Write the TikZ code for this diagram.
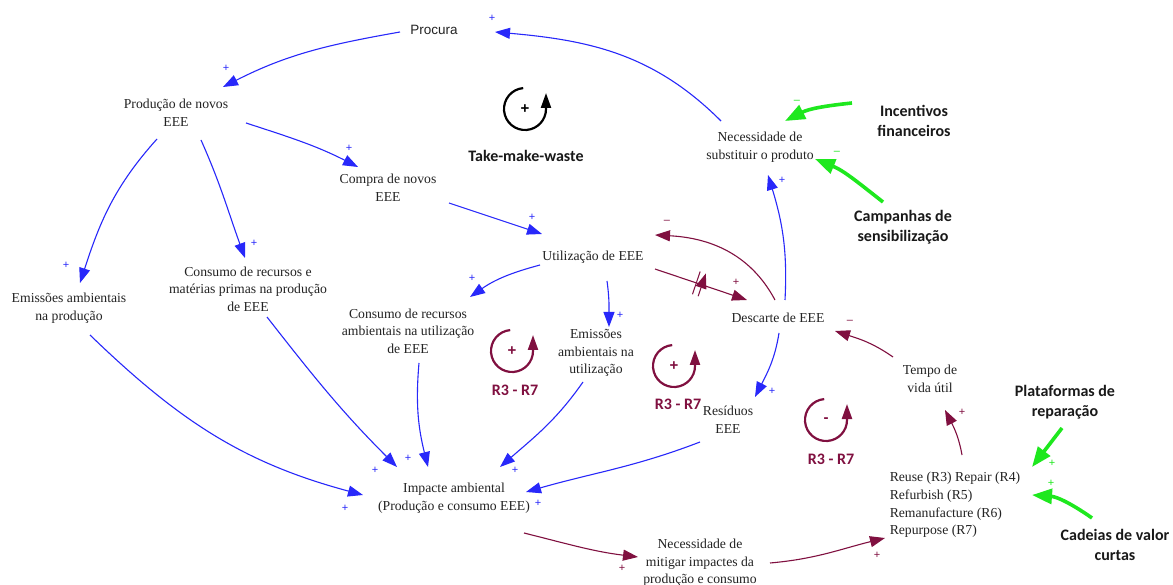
\documentclass[tikz,border=0pt]{standalone}
\usepackage{fontspec}
\setmainfont{Liberation Serif}
\newfontfamily\labelsans{Liberation Sans}
\newfontfamily\calib{Carlito}
\usetikzlibrary{arrows.meta,decorations.markings}

\definecolor{cldblue}{RGB}{40,40,250}
\definecolor{cldmaroon}{RGB}{128,16,64}
\definecolor{cldgreen}{RGB}{30,232,30}
\definecolor{txt}{RGB}{35,35,35}

% feedback loop marker: #1 name, #2 centre, #3 colour, #4 sign
\newcommand\feedbackloop[4]{%
  \node[loopsign, text=#3] (#1) at (#2) {#4};
  \draw[#3, line width=2.2pt, -{Triangle[length=15pt,width=10pt]}]
    ([shift={(95:21)}]#1.center) arc[start angle=95, end angle=360, radius=21pt]
    -- ++(0,16);
}

\begin{document}
\begin{tikzpicture}[x=1pt, y=1pt,
  var/.style={align=center, inner sep=0pt, text=txt, font=\fontsize{13.7}{17.6}\selectfont},
  lever/.style={align=center, inner sep=0pt, text=black!90, font=\calib\bfseries\fontsize{16}{20}\selectfont},
  looplabel/.style={inner sep=0pt, text=cldmaroon, font=\calib\bfseries\fontsize{16}{20}\selectfont},
  loopsign/.style={inner sep=0pt, font=\labelsans\bfseries\fontsize{15}{15}\selectfont},
  sgn/.style={inner sep=0pt, font=\labelsans\fontsize{11}{11}\selectfont},
  bsgn/.style={sgn, text=cldblue},
  msgn/.style={sgn, text=cldmaroon},
  gsgn/.style={sgn, text=cldgreen},
  bl/.style={draw=cldblue, line width=1.1pt, -{Triangle[length=15pt,width=11pt]}},
  mr/.style={draw=cldmaroon, line width=1.1pt, -{Triangle[length=15pt,width=11pt]}},
  gr/.style={draw=cldgreen, line width=3.6pt, -{Triangle[length=20pt,width=15pt]}},
]
\useasboundingbox (0,0) rectangle (1173,-585);
\fill[white] (0,0) rectangle (1173,-585);
\clip (0,0) rectangle (1173,-585);

% ---- variables ----
\node[var, font=\labelsans\fontsize{13.5}{16}\selectfont] (proc) at (434,-30) {Procura};
\node[var] (prod)     at (176,-113) {Produção de novos\\EEE};
\node[var] (compra)   at (388,-188) {Compra de novos\\EEE};
\node[var] (util)     at (593,-257) {Utilização de EEE};
\node[var] (emprod)   at (69,-308)  {Emissões ambientais\\na produção};
\node[var] (consprod) at (248,-289) {Consumo de recursos e\\matérias primas na produção\\de EEE};
\node[var] (consutil) at (408,-331) {Consumo de recursos\\ambientais na utilização\\de EEE};
\node[var] (emutil)   at (596,-353) {Emissões\\ambientais na\\utilização};
\node[var] (desc)     at (778,-318) {Descarte de EEE};
\node[var] (subst)    at (760,-147) {Necessidade de\\substituir o produto};
\node[var] (resid)    at (728,-420) {Resíduos\\EEE};
\node[var] (tempo)    at (930,-379) {Tempo de\\vida útil};
\node[var] (imp)      at (454,-498) {Impacte ambiental\\(Produção e consumo EEE)};
\node[var] (mitig)    at (700,-563) {Necessidade de\\mitigar impactes da\\produção e consumo};
\node[var, align=left] (reuse) at (955,-505)
  {Reuse (R3) Repair (R4)\\Refurbish (R5)\\Remanufacture (R6)\\Repurpose (R7)};

% ---- policy levers ----
\node[lever] (incent)  at (914,-121)  {Incentivos\\financeiros};
\node[lever] (campan)  at (903,-227)  {Campanhas de\\sensibilização};
\node[lever] (plat)    at (1065,-402) {Plataformas de\\reparação};
\node[lever] (cadeias) at (1115,-545) {Cadeias de valor\\curtas};
\node[lever] (tmw)     at (526,-156)  {Take-make-waste};

% ---- loop markers ----
\feedbackloop{loopT}{525,-109}{black}{+}
\feedbackloop{loopA}{512,-351}{cldmaroon}{+}
\feedbackloop{loopB}{674,-366}{cldmaroon}{+}
\feedbackloop{loopC}{826,-420}{cldmaroon}{-}
\node[looplabel] (labA) at (515,-390) {R3 - R7};
\node[looplabel] (labB) at (678,-404) {R3 - R7};
\node[looplabel] (labC) at (831,-459) {R3 - R7};

% ---- blue (positive) links ----
\draw[bl] ([shift={(-39,26)}]subst.center) to[out=135,in=-5] ([shift={(61,-2)}]proc.center);
\draw[bl] ([shift={(-34,-2)}]proc.center) to[out=190,in=27] ([shift={(47,26)}]prod.center);
\draw[bl] ([shift={(70,-10)}]prod.center) to[out=-18,in=153] ([shift={(-30,21)}]compra.center);
\draw[bl] ([shift={(61,-15)}]compra.center) -- ([shift={(-51,23)}]util.center);
\draw[bl] ([shift={(-19,-26)}]prod.center) to[out=228,in=72] ([shift={(11,25)}]emprod.center);
\draw[bl] ([shift={(25,-27)}]prod.center) to[out=-66,in=110] ([shift={(-3,31)}]consprod.center);
\draw[bl] ([shift={(-53,-8)}]util.center) to[out=195,in=35] ([shift={(62,34)}]consutil.center);
\draw[bl] ([shift={(14,-24)}]util.center) to[out=-82,in=90] ([shift={(13,26)}]emutil.center);
\draw[bl] ([shift={(7,18)}]desc.center) to[out=87,in=-73] ([shift={(8,-28)}]subst.center);
\draw[bl] ([shift={(1,-15)}]desc.center) to[out=-99,in=63] ([shift={(27,23)}]resid.center);
\draw[bl] ([shift={(21,-27)}]emprod.center) to[out=-44,in=165] ([shift={(-91,3)}]imp.center);
\draw[bl] ([shift={(19,-28)}]consprod.center) to[out=-52,in=135] ([shift={(-57,31)}]imp.center);
\draw[bl] ([shift={(11,-32)}]consutil.center) to[out=-95,in=104] ([shift={(-26,31)}]imp.center);
\draw[bl] ([shift={(-13,-29)}]emutil.center) to[out=235,in=41] ([shift={(46,31)}]imp.center);
\draw[bl] ([shift={(-28,-22)}]resid.center) to[out=201,in=16] ([shift={(72,6)}]imp.center);

% ---- maroon links ----
\draw[mr, postaction={decorate}, decoration={markings, mark=at position 0.48 with
  {\draw[cldmaroon, line width=1pt] (-3,-12) -- (-3,12) (3,-12) -- (3,12);}}]
  ([shift={(62,-12)}]util.center) -- ([shift={(-31,18)}]desc.center);
\draw[mr] ([shift={(-3,18)}]desc.center) to[out=118,in=-3] ([shift={(62,22)}]util.center);
\draw[mr] ([shift={(-37,22)}]tempo.center) to[out=145,in=-18] ([shift={(57,-13)}]desc.center);
\draw[mr] ([shift={(7,50)}]reuse.center) to[out=100,in=-63] ([shift={(15,-31)}]tempo.center);
\draw[mr] ([shift={(70,-35)}]imp.center) to[out=-14,in=173] ([shift={(-62,6)}]mitig.center);
\draw[mr] ([shift={(70,0)}]mitig.center) to[out=5,in=-166] ([shift={(-70,-33)}]reuse.center);

% ---- green (policy) links ----
\draw[gr] ([shift={(-62,18)}]incent.center) to[out=186,in=27] ([shift={(25,26)}]subst.center);
\draw[gr] ([shift={(-20,25)}]campan.center) to[out=142,in=-22] ([shift={(55,-12)}]subst.center);
\draw[gr] ([shift={(-3,-26)}]plat.center) -- ([shift={(77,38)}]reuse.center);
\draw[gr] ([shift={(-23,27)}]cadeias.center) to[out=145,in=-4] ([shift={(77,10)}]reuse.center);

% ---- polarity signs ----
\node[bsgn] (s1)  at (492,-18)  {+};
\node[bsgn] (s2)  at (226,-68)  {+};
\node[bsgn] (s3)  at (349,-148) {+};
\node[bsgn] (s4)  at (532,-217) {+};
\node[bsgn] (s5)  at (66,-265)  {+};
\node[bsgn] (s6)  at (254,-243) {+};
\node[bsgn] (s7)  at (472,-278) {+};
\node[bsgn] (s8)  at (620,-315) {+};
\node[bsgn] (s9)  at (782,-180) {+};
\node[bsgn] (s10) at (772,-391) {+};
\node[bsgn] (s11) at (345,-508) {+};
\node[bsgn] (s12) at (375,-470) {+};
\node[bsgn] (s13) at (408,-458) {+};
\node[bsgn] (s14) at (515,-470) {+};
\node[bsgn] (s15) at (538,-503) {+};
\node[msgn] (s16) at (736,-282) {+};
\node[msgn] (s17) at (667,-222) {–};
\node[msgn] (s18) at (850,-322) {–};
\node[msgn] (s19) at (962,-412) {+};
\node[msgn] (s20) at (622,-568) {+};
\node[msgn] (s21) at (877,-555) {+};
\node[gsgn] (s22) at (797,-102) {–};
\node[gsgn] (s23) at (837,-153) {–};
\node[gsgn] (s24) at (1052,-463) {+};
\node[gsgn] (s25) at (1051,-483) {+};
\end{tikzpicture}
\end{document}
